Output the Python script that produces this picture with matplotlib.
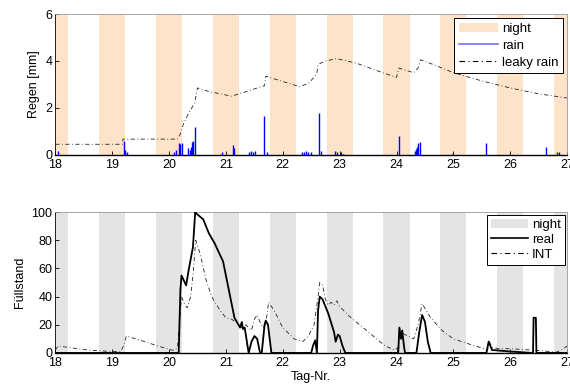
import matplotlib
matplotlib.use("Agg")
from matplotlib import pyplot as plt
from matplotlib.patches import Patch
from matplotlib.lines import Line2D

plt.rcParams['font.family'] = ['Liberation Sans', 'DejaVu Sans']
plt.rcParams['font.size'] = 9

# nights (shaded bands)
night_start = [17.77, 18.77, 19.77, 20.77, 21.77, 22.77, 23.77, 24.77, 25.77, 26.77]
night_end   = [18.23, 19.23, 20.23, 21.23, 22.23, 23.23, 24.23, 25.23, 26.23, 27.23]

# rain spikes [mm]
rain_t = [18.04, 19.2, 19.23, 19.26, 20.0, 20.08, 20.13, 20.17, 20.19, 20.22,
          20.34, 20.36, 20.39, 20.41, 20.43, 20.46, 20.93, 21.12, 21.15, 21.4,
          21.44, 21.48, 21.51, 21.67, 21.73, 22.33, 22.37, 22.41, 22.45, 22.5,
          22.63, 22.68, 22.92, 22.96, 23.02, 23.06, 24.04, 24.32, 24.34, 24.36,
          24.38, 24.41, 24.98, 25.58, 26.62, 26.83, 26.86]
rain_h = [0.15, 0.6, 0.2, 0.1, 0.05, 0.1, 0.2, 0.5, 0.45, 0.5,
          0.3, 0.2, 0.35, 0.55, 0.6, 1.2, 0.1, 0.4, 0.3, 0.1,
          0.15, 0.12, 0.15, 1.65, 0.1, 0.1, 0.12, 0.15, 0.1, 0.1,
          1.8, 0.15, 0.15, 0.1, 0.1, 0.05, 0.8, 0.15, 0.25, 0.35,
          0.5, 0.55, 0.03, 0.5, 0.35, 0.1, 0.1]

# leaky rain [mm]
leaky_t = [18.0, 19.18, 19.19, 20.15, 20.2, 20.25, 20.35, 20.45, 20.5, 20.7,
           21.0, 21.1, 21.3, 21.55, 21.68, 21.7, 21.9, 22.1, 22.3, 22.45,
           22.55, 22.6, 22.62, 22.75, 22.95, 23.3, 23.7, 24.0, 24.04, 24.1,
           24.3, 24.38, 24.42, 24.7, 25.0, 25.5, 26.0, 26.5, 27.0]
leaky_y = [0.45, 0.45, 0.67, 0.67, 0.9, 1.3, 1.8, 2.2, 2.85, 2.7,
           2.55, 2.5, 2.65, 2.85, 2.95, 3.35, 3.2, 3.05, 2.9, 3.05,
           3.3, 3.5, 3.85, 4.0, 4.1, 3.9, 3.55, 3.3, 3.7, 3.65,
           3.5, 3.7, 4.05, 3.8, 3.5, 3.15, 2.85, 2.6, 2.42]

# Fuellstand real
real_t = [18.0, 20.17, 20.2, 20.22, 20.3, 20.35, 20.42, 20.46, 20.48, 20.6,
          20.7, 20.8, 20.95, 21.05, 21.15, 21.25, 21.28, 21.3, 21.33, 21.4,
          21.45, 21.5, 21.55, 21.6, 21.63, 21.68, 21.7, 21.74, 21.8, 22.5,
          22.53, 22.57, 22.6, 22.62, 22.65, 22.7, 22.8, 22.9, 22.93, 22.97,
          23.0, 23.05, 23.1, 24.03, 24.05, 24.08, 24.1, 24.13, 24.15, 24.35,
          24.4, 24.45, 24.5, 24.55, 24.6, 25.58, 25.62, 25.65, 25.68, 25.72,
          26.0, 26.4, 26.41, 26.45, 26.46, 27.0]
real_y = [0, 0, 45, 55, 48, 60, 75, 100, 99, 95,
          85, 78, 65, 45, 25, 18, 22, 17, 18, 0,
          8, 12, 10, 0, 0, 20, 23, 20, 0, 0,
          5, 9, 0, 30, 40, 38, 28, 15, 8, 13,
          12, 5, 0, 0, 18, 10, 16, 5, 0, 0,
          15, 27, 22, 8, 0, 0, 8, 5, 2, 2,
          1, 0, 25, 25, 0, 0]

# Fuellstand INT
int_t = [18.0, 18.05, 18.3, 18.6, 19.0, 19.15, 19.2, 19.25, 19.5, 19.8,
         20.05, 20.1, 20.15, 20.18, 20.22, 20.27, 20.32, 20.38, 20.42, 20.47,
         20.55, 20.65, 20.75, 20.9, 21.0, 21.1, 21.2, 21.3, 21.35, 21.45,
         21.5, 21.55, 21.6, 21.65, 21.7, 21.75, 21.85, 22.0, 22.2, 22.35,
         22.45, 22.55, 22.62, 22.65, 22.7, 22.75, 22.8, 22.85, 22.9, 22.95,
         23.0, 23.2, 23.5, 23.8, 23.97, 24.03, 24.05, 24.1, 24.2, 24.3,
         24.38, 24.45, 24.6, 24.8, 25.0, 25.3, 25.55, 25.6, 25.63, 25.68,
         25.8, 26.0, 26.4, 26.7, 26.8, 26.9, 27.0]
int_y = [2, 5, 3.5, 2, 1, 1, 5, 12, 9, 5,
         2, 2, 4, 20, 40, 35, 32, 40, 55, 80,
         70, 52, 40, 30, 25, 24, 21, 17, 20, 16,
         24, 27, 22, 18, 20, 36, 30, 18, 10, 8,
         12, 20, 40, 50, 48, 38, 34, 36, 34, 37,
         33, 25, 15, 5, 2, 4, 18, 14, 12, 10,
         20, 35, 25, 16, 10, 6, 3, 2, 8, 4,
         3, 3, 2, 1, 0.5, 2, 5]

days = [18, 19, 20, 21, 22, 23, 24, 25, 26, 27]

peach = '#fde3c9'
grey = '#e4e4e4'
dashdot = (0, (5, 3, 1, 3))

fig = plt.figure(figsize=(5.7, 3.9), dpi=100)
ax1 = fig.add_axes([0.097, 0.603, 0.898, 0.361])
ax2 = fig.add_axes([0.097, 0.095, 0.898, 0.361])

for ax, col in [(ax1, peach), (ax2, grey)]:
    for s, e in zip(night_start, night_end):
        ax.axvspan(s, e, color=col, lw=0, zorder=0)

# top: rain
ax1.vlines(rain_t, 0, rain_h, color='#0000ff', lw=1.0, zorder=3)
ax1.plot(leaky_t, leaky_y, color='#222222', lw=0.6, ls=dashdot, zorder=4)
ax1.set_ylim(0, 6)
ax1.set_yticks([0, 2, 4, 6])
ax1.set_ylabel('Regen [mm]')
h1 = [Patch(color=peach, lw=0),
      Line2D([], [], color='#7070ff', lw=1.2),
      Line2D([], [], color='k', lw=0.8, ls=dashdot)]
leg1 = ax1.legend(h1, ['night', 'rain', 'leaky rain'], loc='upper right',
                  fancybox=False, framealpha=1, edgecolor='k', fontsize=9.5,
                  borderpad=0.35, labelspacing=0.35, handlelength=3.0,
                  handletextpad=0.3, borderaxespad=0.3)
leg1.get_frame().set_linewidth(0.7)

# bottom: Fuellstand
ax2.plot(real_t, real_y, color='k', lw=1.3, zorder=4)
ax2.plot(int_t, int_y, color='#222222', lw=0.6, ls=dashdot, zorder=3)
ax2.set_ylim(0, 100)
ax2.set_yticks([0, 20, 40, 60, 80, 100])
ax2.set_ylabel('Füllstand')
ax2.set_xlabel('Tag-Nr.', labelpad=1)
h2 = [Patch(color=grey, lw=0),
      Line2D([], [], color='k', lw=1.2),
      Line2D([], [], color='k', lw=0.8, ls=dashdot)]
leg2 = ax2.legend(h2, ['night', 'real', 'INT'], loc='upper right',
                  fancybox=False, framealpha=1, edgecolor='k', fontsize=9.5,
                  borderpad=0.3, labelspacing=0.2, handlelength=2.8,
                  handletextpad=0.3, borderaxespad=0.2)
leg2.get_frame().set_linewidth(0.7)

for ax in (ax1, ax2):
    ax.set_xlim(18, 27)
    ax.set_xticks(days)
    ax.tick_params(direction='in', length=3, width=0.6, pad=2)
    ax.tick_params(axis='x', pad=3)
    for side in ('top', 'right'):
        ax.spines[side].set_color('#999999')
        ax.spines[side].set_linewidth(0.6)
    ax.spines['left'].set_linewidth(0.6)
    ax.spines['bottom'].set_linewidth(1.0)

fig.savefig('out.png', dpi=100)
